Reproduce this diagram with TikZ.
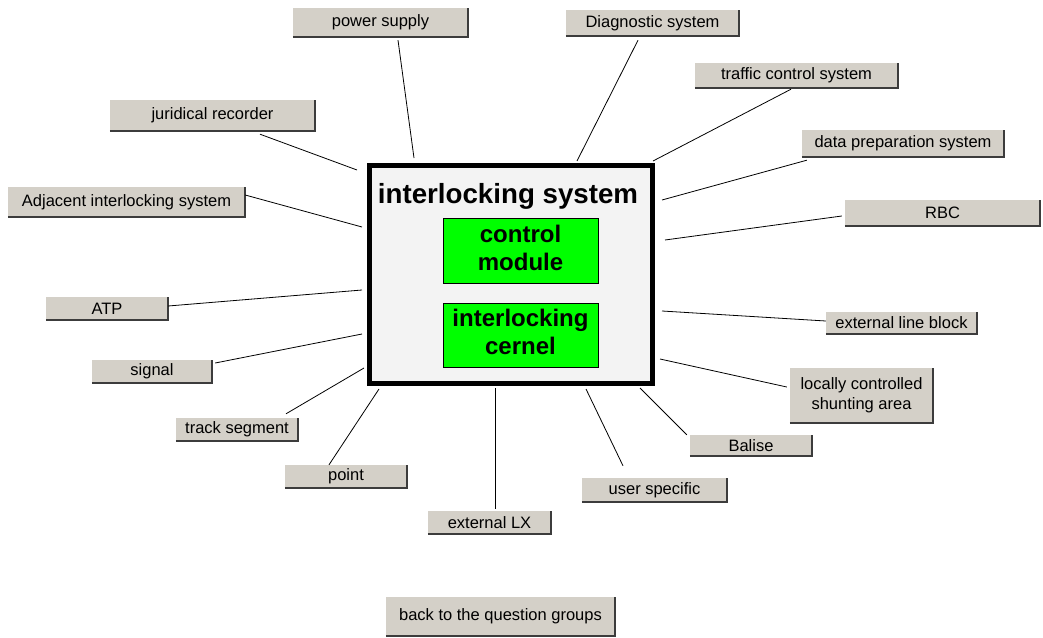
\documentclass[tikz,border=0pt]{standalone}
\usepackage{fontspec}
\setmainfont{Liberation Sans}
\definecolor{btnface}{HTML}{D4D0C8}
\definecolor{btnshade}{HTML}{3C3C3C}
\definecolor{sysfill}{HTML}{F3F3F3}
\definecolor{modgreen}{HTML}{00FF00}
\newcommand{\btnfont}{\fontsize{16.5}{20}\selectfont}

\begin{document}
\begin{tikzpicture}[x=1pt,y=-1pt,
  btn/.style={fill=btnface, inner sep=0pt, align=center, font=\btnfont},
  gbox/.style={draw, fill=modgreen, line width=1pt, inner sep=0pt, minimum width=155pt,
    align=center, font=\bfseries\fontsize{24}{28}\selectfont, text depth=6pt},
  link/.style={draw, line width=0.8pt}]
  \useasboundingbox (0,0) rectangle (1043,637);

  % the interlocking system and its two modules
  \node[draw, line width=5pt, fill=sysfill, minimum width=283pt, minimum height=218pt] (sys) at (511,274.5) {};
  \node[anchor=base, font=\bfseries\fontsize{27.7}{30}\selectfont] (title) at (508,203) {interlocking system};
  \node[gbox, minimum height=65pt] (cm) at (520.5,250.5) {control\\module};
  \node[gbox, minimum height=64pt] (ic) at (520.5,335) {interlocking\\cernel};

  % buttons: name / centre x / centre y / width / height / text
  \foreach \n/\x/\y/\w/\h/\t in {
    ps/380.5/22.5/175/29/{power supply},
    ds/652.5/23/173/26/{Diagnostic system},
    tc/796.5/75.5/203/25/{traffic control system},
    jr/212.5/115.5/205/31/{juridical recorder},
    dp/903/143.5/202/27/{data preparation system},
    ad/126.5/202/237/30/{Adjacent interlocking system},
    rbc/942.5/213/195/26/{RBC},
    atp/107/308.5/122/23/{ATP},
    elb/901.5/323/151/22/{external line block},
    sig/152/371.5/120/23/{signal},
    lcs/861.5/395.5/143/55/{locally controlled\\shunting area},
    ts/237/429.5/122/23/{track segment},
    bal/751/445.5/122/21/{Balise},
    pt/346/476.5/122/23/{point},
    us/654.5/490/145/24/{user specific},
    lx/489.5/522.5/123/23/{external LX},
    back/500.5/616.5/229/39/{back to the question groups}} {
    \node[btn, minimum width=\w pt, minimum height=\h pt] (\n) at (\x,\y) {\t};
    \draw[btnshade, line width=1.5pt] (\n.south west) -- (\n.south east) -- (\n.north east);
  }

  % connectors: button / anchor / shift from anchor / end near the system box
  \foreach \n/\a/\s/\e in {
    ps/south/{17.5,3}/{414,158},
    ds/south/{-14.5,4}/{577,161},
    tc/south/{-5.5,1}/{653,161},
    jr/south/{47.5,3}/{357,170},
    dp/south west/{5,3}/{662,200},
    ad/east/{0,-7}/{362,227},
    rbc/west/{-3,3}/{665,240},
    atp/east/{0,-2.5}/{362,290},
    elb/west/{0,-2}/{662,311},
    sig/east/{3,-8.5}/{362,334},
    lcs/west/{-3,-8.5}/{660,359},
    ts/north/{49,-4}/{364,368},
    bal/north west/{-3,0}/{640,388},
    pt/north/{-17,0}/{379,389},
    us/north/{-31.5,-12}/{586,389},
    lx/north/{5.5,-2}/{495,388}} {
    \coordinate (\n-in) at (\e);
    \draw[link] ([shift={(\s)}]\n.\a) -- (\n-in);
  }
\end{tikzpicture}
\end{document}
